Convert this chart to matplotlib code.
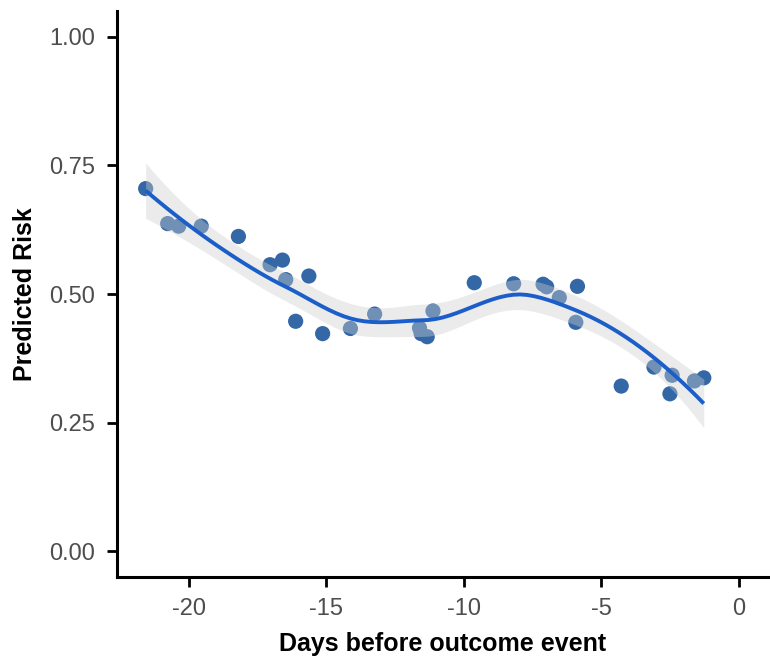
import numpy as np
import matplotlib
matplotlib.use("Agg")
import matplotlib.pyplot as plt

plt.rcParams['font.family'] = ['Liberation Sans', 'DejaVu Sans']

# days before event (x) and predicted risk (y)
days = [-21.56, -20.76, -20.36, -19.54, -18.19, -17.04, -16.59, -16.47, -15.63, -16.11,
        -15.13, -14.12, -13.24, -11.61, -11.55, -11.33, -11.12, -9.62, -8.19, -7.12,
        -6.99, -6.53, -5.87, -5.93, -4.28, -3.09, -2.43, -2.51, -1.62, -1.28]
risk = [0.705, 0.637, 0.632, 0.632, 0.612, 0.557, 0.566, 0.528, 0.535, 0.447,
        0.423, 0.433, 0.461, 0.434, 0.423, 0.417, 0.467, 0.522, 0.520, 0.519,
        0.514, 0.493, 0.515, 0.445, 0.321, 0.358, 0.342, 0.306, 0.331, 0.337]

x_ticks = [-20, -15, -10, -5, 0]
y_ticks = [0.00, 0.25, 0.50, 0.75, 1.00]
y_ticklabels = ["0.00", "0.25", "0.50", "0.75", "1.00"]

POINT_COL = "#3467a6"
LINE_COL = "#1c5ec9"
SPAN = 0.75


def local_rows(x, x0, q):
    # local quadratic fit at x0, tricube weights -> rows for value and slope
    d = np.abs(x - x0)
    h = np.sort(d)[q - 1]
    w = np.clip(1 - (d / h) ** 3, 0, None) ** 3
    X = np.column_stack([np.ones(len(x)), x - x0, (x - x0) ** 2])
    XtW = X.T * w
    B = np.linalg.solve(XtW @ X, XtW)
    return B[0], B[1]


def kd_vertices(x, fc):
    # 1-d version of loess' kd tree: split cells at the median
    rng = x.max() - x.min()
    verts = {x.min() - 0.005 * rng, x.max() + 0.005 * rng}

    def split(pts):
        if len(pts) <= fc:
            return
        v = np.median(pts)
        verts.add(v)
        split(pts[pts <= v])
        split(pts[pts > v])

    split(np.sort(x))
    return np.array(sorted(verts))


def loess_operator(x, x_eval, span=SPAN):
    # fit at vertices, cubic hermite in between (surface = "interpolate")
    n = len(x)
    q = int(np.floor(n * span))
    fc = int(np.floor(n * span * 0.2))
    vx = kd_vertices(x, fc)
    vals, slopes = zip(*[local_rows(x, v, q) for v in vx])
    vals, slopes = np.array(vals), np.array(slopes)
    out = []
    for xe in x_eval:
        i = min(max(np.searchsorted(vx, xe) - 1, 0), len(vx) - 2)
        x0, x1 = vx[i], vx[i + 1]
        hh = x1 - x0
        t = (xe - x0) / hh
        h00 = 2 * t**3 - 3 * t**2 + 1
        h10 = t**3 - 2 * t**2 + t
        h01 = -2 * t**3 + 3 * t**2
        h11 = t**3 - t**2
        out.append(h00 * vals[i] + h10 * hh * slopes[i]
                   + h01 * vals[i + 1] + h11 * hh * slopes[i + 1])
    return np.array(out)


x = np.array(days)
y = np.array(risk)
grid = np.linspace(x.min(), x.max(), 80)

L_grid = loess_operator(x, grid)
L_data = loess_operator(x, x)
fit = L_grid @ y
resid = y - L_data @ y
M = np.eye(len(x)) - L_data
delta1 = np.trace(M.T @ M)
s = np.sqrt(np.sum(resid ** 2) / delta1)
se = s * np.sqrt(np.sum(L_grid ** 2, axis=1))
T975 = 2.06  # t quantile, df ~ 25
lo, hi = fit - T975 * se, fit + T975 * se

fig = plt.figure(figsize=(7.7, 6.6), dpi=100)
ax = fig.add_axes([0.152, 0.126, 0.846, 0.857])

ax.scatter(x, y, s=120, color=POINT_COL, edgecolors="none", zorder=2)
ax.fill_between(grid, lo, hi, color="#cfcfcf", alpha=0.4, linewidth=0, zorder=3)
ax.plot(grid, fit, color=LINE_COL, lw=2.8, zorder=4, solid_capstyle="butt")

ax.set_xlim(-22.6, 1.07)
ax.set_ylim(-0.05, 1.05)
ax.set_xticks(x_ticks)
ax.set_xticklabels([str(t) for t in x_ticks])
ax.set_yticks(y_ticks)
ax.set_yticklabels(y_ticklabels)

for side in ["top", "right"]:
    ax.spines[side].set_visible(False)
for side in ["left", "bottom"]:
    ax.spines[side].set_linewidth(2.2)
    ax.spines[side].set_color("black")

ax.tick_params(axis="both", length=7, width=2, color="black",
               labelsize=17, labelcolor="#4d4d4d")
ax.tick_params(axis="x", pad=8)
ax.tick_params(axis="y", pad=9)

ax.set_xlabel("Days before outcome event", fontsize=18, fontweight="bold", labelpad=9)
ax.set_ylabel("Predicted Risk", fontsize=18, fontweight="bold", labelpad=8.5)

fig.savefig("out.png", dpi=100)
